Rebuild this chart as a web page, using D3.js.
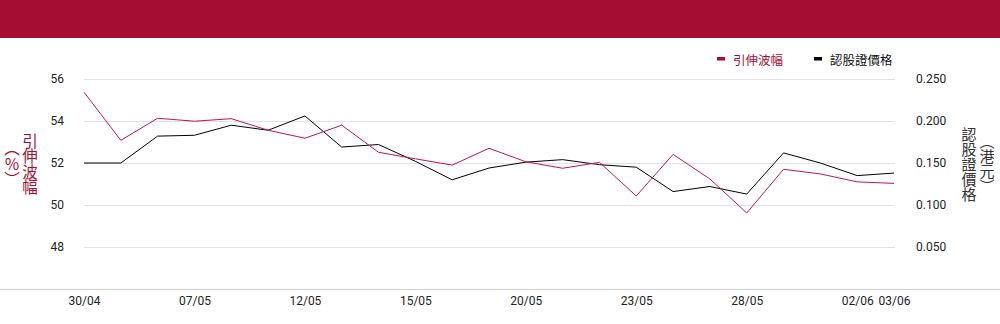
<!DOCTYPE html>
<html>
<head>
<meta charset="utf-8">
<script src="https://cdn.jsdelivr.net/npm/d3@7"></script>
<style>
  html, body { margin: 0; padding: 0; background: #fff; }
  svg { display: block; }
  .tick text { font-family: Roboto, "Noto Sans", sans-serif; }
</style>
</head>
<body>
<svg id="chart" width="1000" height="324"></svg>
<script>
// Trading days
const dates = ["30/04","02/05","06/05","07/05","08/05","09/05","12/05","13/05","14/05","15/05",
  "16/05","19/05","20/05","21/05","22/05","23/05","26/05","27/05","28/05","29/05","30/05","02/06","03/06"];

// Implied volatility (%)
const ivValues = [55.37,53.08,54.13,53.99,54.11,53.56,53.18,53.80,52.51,52.20,
  51.90,52.70,52.06,51.75,52.03,50.43,52.41,51.24,49.62,51.70,51.48,51.10,51.03];

// Warrant price (HKD)
const priceValues = [0.150,0.150,0.182,0.183,0.195,0.189,0.206,0.169,0.172,0.152,
  0.130,0.144,0.151,0.154,0.148,0.145,0.116,0.122,0.113,0.162,0.150,0.135,0.138];

const xTickLabels = ["30/04","07/05","12/05","15/05","20/05","23/05","28/05","02/06","03/06"];
const leftTicks = [48,50,52,54,56];
const rightTicks = [0.05,0.10,0.15,0.20,0.25];

const seriesNames = ["引伸波幅","認股證價格"];
const leftTitle = "引伸波幅";
const leftUnit = "（％）";
const rightTitle = "認股證價格";
const rightUnit = "（港元）";

const RED = "#a50e32";
const BLACK = "#000000";

const svg = d3.select("#chart");
const W = 1000;

// Header band
svg.append("rect").attr("x", 0).attr("y", 0).attr("width", W).attr("height", 38).attr("fill", RED);

const x = d3.scalePoint().domain(dates).range([84, 894]);
const yL = d3.scaleLinear().domain([46, 56]).range([289, 79]);
const yR = d3.scaleLinear().domain([0, 0.25]).range([289, 79]);

// Gridlines
svg.append("g")
  .selectAll("line")
  .data(leftTicks)
  .join("line")
  .attr("x1", 84).attr("x2", 895)
  .attr("y1", d => Math.round(yL(d)) + 0.5)
  .attr("y2", d => Math.round(yL(d)) + 0.5)
  .attr("stroke", "#e2e2e2").attr("stroke-width", 1);

// Bottom baseline
svg.append("line")
  .attr("x1", 0).attr("x2", W)
  .attr("y1", 289.5).attr("y2", 289.5)
  .attr("stroke", "#cccccc").attr("stroke-width", 1);

// Left axis
const gL = svg.append("g").attr("transform", "translate(64,0)")
  .call(d3.axisLeft(yL).tickValues(leftTicks).tickSize(0).tickPadding(0).tickFormat(d3.format("d")));
gL.select(".domain").remove();
gL.selectAll("text").attr("font-size", 12).attr("fill", "#222");

// Right axis
const gR = svg.append("g").attr("transform", "translate(916,0)")
  .call(d3.axisRight(yR).tickValues(rightTicks).tickSize(0).tickPadding(0).tickFormat(d3.format(".3f")));
gR.select(".domain").remove();
gR.selectAll("text").attr("font-size", 12).attr("fill", "#222");

// Bottom axis
const gX = svg.append("g").attr("transform", "translate(0,296)")
  .call(d3.axisBottom(x).tickValues(xTickLabels).tickSize(0).tickPadding(0));
gX.select(".domain").remove();
gX.selectAll("text")
  .attr("font-family", "'Open Sans', sans-serif")
  .attr("font-size", 12).attr("fill", "#222");

// Lines
const lineIv = d3.line().x((d, i) => x(dates[i])).y(d => yL(d));
const linePrice = d3.line().x((d, i) => x(dates[i])).y(d => yR(d));

svg.append("path").datum(priceValues)
  .attr("d", linePrice).attr("fill", "none")
  .attr("stroke", BLACK).attr("stroke-width", 1);

svg.append("path").datum(ivValues)
  .attr("d", lineIv).attr("fill", "none")
  .attr("stroke", "#c0164a").attr("stroke-width", 1);

// Legend
const legend = svg.append("g").attr("font-family", "'Noto Sans CJK TC', sans-serif").attr("font-size", 12.5);
const legendItems = [
  { name: seriesNames[0], color: RED, x: 717 },
  { name: seriesNames[1], color: BLACK, x: 814 }
];
legendItems.forEach(it => {
  legend.append("rect").attr("x", it.x).attr("y", 57).attr("width", 8).attr("height", 3.5).attr("fill", it.color);
  legend.append("text").attr("x", it.x + 16).attr("y", 59).attr("dominant-baseline", "central")
    .attr("fill", it.color === RED ? RED : "#111").text(it.name);
});

// Axis titles (vertical writing)
const vText = (txt, cx, cy, color, size) =>
  svg.append("text")
    .attr("x", cx).attr("y", cy)
    .attr("text-anchor", "middle")
    .style("writing-mode", "vertical-rl")
    .attr("font-family", "'Noto Sans CJK TC', sans-serif")
    .attr("font-size", size)
    .attr("fill", color)
    .text(txt);

vText(leftTitle, 30, 164, RED, 15.5);
vText(leftUnit, 12, 164, RED, 15.5);
vText(rightTitle, 969, 164, "#333", 15);
vText(rightUnit, 987, 164, "#333", 15);
</script>
</body>
</html>
